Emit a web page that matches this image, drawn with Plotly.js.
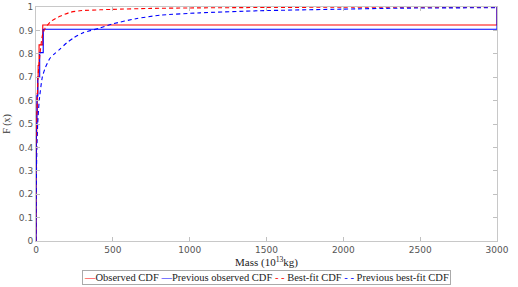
<!DOCTYPE html>
<html>
<head>
<meta charset="utf-8">
<script src="https://cdn.plot.ly/plotly-3.0.1.min.js"></script>
<style>html,body{margin:0;padding:0;background:#fff;}#chart{width:518px;height:287px;}</style>
</head>
<body>
<div id="chart"></div>
<script>
// Observed CDF (step function)
var obsMass = [0, 0, 1, 3, 5, 8, 11, 14, 20, 44, 3000];
var obsF    = [0, 0.05, 0.3, 0.45, 0.55, 0.63, 0.7, 0.75, 0.838, 0.923, 1.0];
// Previous observed CDF (step function)
var prevObsMass = [0, 0, 2, 6, 12, 24, 47, 3000];
var prevObsF    = [0, 0.3, 0.5, 0.62, 0.7, 0.805, 0.905, 1.0];
// Best-fit CDF
var fitMass = [0, 1, 3, 5, 8, 13, 26, 42, 60, 100, 156, 221, 286, 416, 500, 750, 1000, 1500, 2000, 3000];
var fitF    = [0, 0.2, 0.4, 0.5, 0.6, 0.7, 0.8, 0.88, 0.91, 0.94, 0.96, 0.977, 0.984, 0.988, 0.99, 0.994, 0.996, 0.998, 0.999, 0.9995];
// Previous best-fit CDF
var prevFitMass = [0, 1, 3, 6, 11, 21, 41, 60, 90, 120, 156, 200, 250, 306, 416, 500, 650, 807, 1067, 1457, 2000, 2369, 3000];
var prevFitF    = [0, 0.15, 0.3, 0.4, 0.5, 0.6, 0.7, 0.74, 0.78, 0.80, 0.82, 0.847, 0.87, 0.89, 0.91, 0.928, 0.95, 0.965, 0.975, 0.984, 0.991, 0.995, 0.997];

var xTicks = [0, 500, 1000, 1500, 2000, 2500, 3000];
var yTicks = [0, 0.1, 0.2, 0.3, 0.4, 0.5, 0.6, 0.7, 0.8, 0.9, 1];
var yTickText = ['0', '0.1', '0.2', '0.3', '0.4', '0.5', '0.6', '0.7', '0.8', '0.9', '1'];
var seriesNames = ['Observed CDF', 'Previous observed CDF', 'Best-fit CDF', 'Previous best-fit CDF'];

var RED = '#ff0000', BLUE = '#0000ff';
var traces = [
  {x: obsMass, y: obsF, mode: 'lines', name: seriesNames[0], line: {color: RED, width: 1.1, shape: 'hv'}},
  {x: prevObsMass, y: prevObsF, mode: 'lines', name: seriesNames[1], line: {color: BLUE, width: 1.1, shape: 'hv'}},
  {x: fitMass, y: fitF, mode: 'lines', name: seriesNames[2], line: {color: RED, width: 1.1, dash: '4px,3px', shape: 'spline', smoothing: 0.6}},
  {x: prevFitMass, y: prevFitF, mode: 'lines', name: seriesNames[3], line: {color: BLUE, width: 1.1, dash: '4px,3px', shape: 'spline', smoothing: 0.6}}
];

var legendText =
  '<span style="color:' + RED + '">—</span>' + seriesNames[0] + ' ' +
  '<span style="color:' + BLUE + '">—</span>' + seriesNames[1] + ' ' +
  '<span style="color:' + RED + '">- -</span> ' + seriesNames[2] + ' ' +
  '<span style="color:' + BLUE + '">- -</span> ' + seriesNames[3];

var axisCommon = {
  showgrid: false, zeroline: false, showline: true, linecolor: '#c8c8c8', linewidth: 1,
  mirror: 'ticks', ticks: 'inside', ticklen: 4, tickcolor: '#c0c0c0', tickwidth: 1,
  tickfont: {family: 'DejaVu Sans', size: 9, color: '#555'}
};

var layout = {
  width: 518, height: 287,
  margin: {l: 36, r: 21, t: 7, b: 46},
  paper_bgcolor: '#fff', plot_bgcolor: '#fff',
  showlegend: false,
  xaxis: Object.assign({}, axisCommon, {
    range: [0, 3000], tickvals: xTicks, ticktext: xTicks.map(String),
    title: {text: 'Mass (10<sup>13</sup>kg)', font: {family: 'Liberation Serif', size: 11, color: '#222'}, standoff: 4}
  }),
  yaxis: Object.assign({}, axisCommon, {
    range: [0, 1], tickvals: yTicks, ticktext: yTickText,
    title: {text: 'F (x)', font: {family: 'Liberation Serif', size: 10, color: '#333'}, standoff: 6}
  }),
  annotations: [{
    xref: 'paper', yref: 'paper', x: 0.5, y: -0.154, xanchor: 'center', yanchor: 'middle',
    showarrow: false, text: legendText,
    font: {family: 'Liberation Serif', size: 10.5, color: '#222'},
    bordercolor: '#aaa', borderwidth: 1, borderpad: 1, bgcolor: '#fff'
  }]
};

Plotly.newPlot('chart', traces, layout, {staticPlot: true, displayModeBar: false});
</script>
</body>
</html>
